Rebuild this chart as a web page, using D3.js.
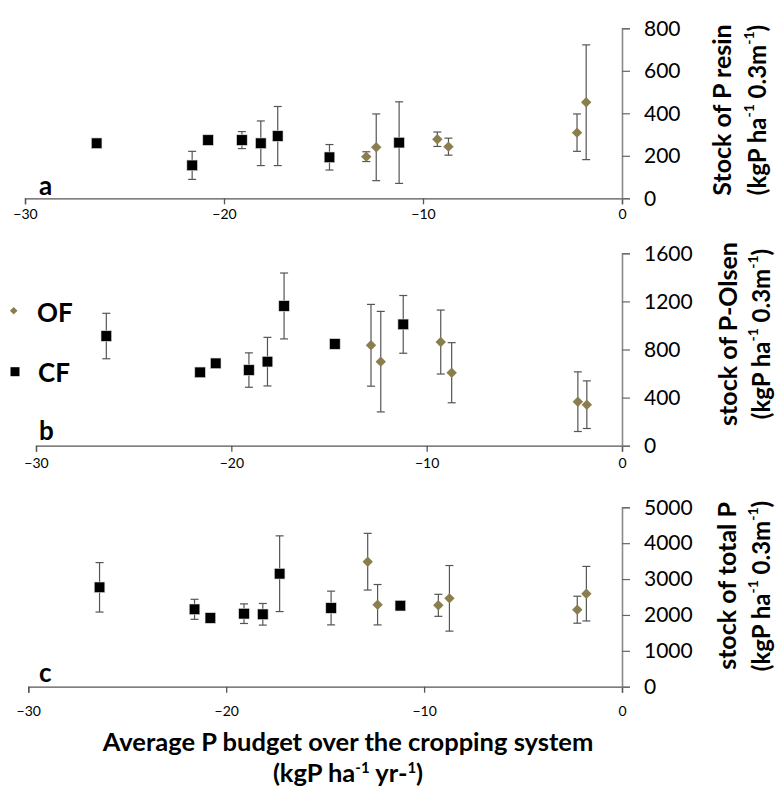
<!DOCTYPE html>
<html><head><meta charset="utf-8">
<script src="https://cdn.jsdelivr.net/npm/d3@7"></script>
<style>html,body{margin:0;padding:0;background:#fff}svg{display:block}</style>
</head><body>
<script>
// ---------- DATA ----------
const budgetCF = [-26.4, -21.6, -20.8, -19.1, -18.15, -17.3, -14.7, -11.2];
const budgetOF = [-12.85, -12.35, -9.28, -8.72, -2.26, -1.8];

const resinCF   = [259, 155, 274, 274, 259, 293, 193, 262];
const resinCFsd = [0, 66, 0, 40, 105, 139, 60, 192];
const resinOF   = [196, 240, 278, 243, 309, 452];
const resinOFsd = [23, 157, 34, 40, 88, 270];

const olsenCF   = [912, 610, 685, 629, 699, 1162, 846, 1009];
const olsenCFsd = [189, 0, 0, 143, 202, 274, 0, 240];
const olsenOF   = [835, 699, 862, 607, 366, 341];
const olsenOFsd = [340, 418, 266, 250, 248, 198];

const totalCF   = [2770, 2157, 1915, 2035, 2018, 3149, 2193, 2258];
const totalCFsd = [689, 279, 0, 273, 301, 1055, 470, 0];
const totalOF   = [3484, 2285, 2268, 2463, 2146, 2592];
const totalOFsd = [790, 563, 307, 914, 376, 760];

const xTicks = [-30, -20, -10, 0];
const resinTicks = [0, 200, 400, 600, 800];
const olsenTicks = [0, 400, 800, 1200, 1600];
const totalTicks = [0, 1000, 2000, 3000, 4000, 5000];

const panelLetters = ["a", "b", "c"];
const yTitles = ["Stock of P resin", "stock of P-Olsen", "stock of total P"];
const seriesNames = ["OF", "CF"];

// ---------- LAYOUT ----------
const W = 777, H = 789;
const font = "Lato, 'Open Sans', sans-serif";
const colOF = "#8b7e4e", colCF = "#000";
const errCol = "#555";

const panels = [
  {left: 25,  right: 622, top: 28.3,  bottom: 198.3, max: 800,  ticks: resinTicks, cf: resinCF, cfsd: resinCFsd, of: resinOF, ofsd: resinOFsd, xlabY: 219, t1x: 721, t2x: 756, tcy: 110, letterY: 195},
  {left: 36,  right: 622, top: 253.3, bottom: 445.7, max: 1600, ticks: olsenTicks, cf: olsenCF, cfsd: olsenCFsd, of: olsenOF, ofsd: olsenOFsd, xlabY: 468, t1x: 727, t2x: 760, tcy: 334, letterY: 440},
  {left: 28.3,right: 622, top: 507.3, bottom: 686.7, max: 5000, ticks: totalTicks, cf: totalCF, cfsd: totalCFsd, of: totalOF, ofsd: totalOFsd, xlabY: 716, t1x: 726, t2x: 760, tcy: 586, letterY: 682}
];

const svg = d3.select("body").append("svg").attr("width", W).attr("height", H)
  .style("font-family", font);

function diamondPath(r) { return `M0,${-r}L${r},0L0,${r}L${-r},0Z`; }

panels.forEach((p, i) => {
  const x = d3.scaleLinear().domain([-30, 0]).range([p.left, p.right]);
  const y = d3.scaleLinear().domain([0, p.max]).range([p.bottom, p.top]);
  const g = svg.append("g");

  // x axis
  const xa = g.append("g").attr("transform", `translate(0,${p.bottom})`)
    .call(d3.axisBottom(x).tickValues(xTicks).tickSize(6).tickFormat(d3.format("d")));
  xa.select(".domain").attr("stroke", "#555").attr("stroke-width", 1.3);
  xa.selectAll(".tick line").attr("stroke", "#555").attr("stroke-width", 1.3);
  xa.selectAll(".tick text").attr("font-size", 14).attr("fill", "#000")
    .attr("font-family", font).attr("y", null).attr("dy", null)
    .attr("transform", `translate(0,${p.xlabY - p.bottom})`);

  // y axis (right)
  const ya = g.append("g").attr("transform", `translate(${p.right},0)`)
    .call(d3.axisRight(y).tickValues(p.ticks).tickSize(8).tickPadding(14).tickFormat(d3.format("d")));
  ya.select(".domain").attr("stroke", "#8a8a8a").attr("stroke-width", 1.6);
  ya.selectAll(".tick line").attr("stroke", "#666").attr("stroke-width", 1.2);
  ya.selectAll(".tick text").attr("font-size", 21).attr("fill", "#000").attr("font-family", font);

  // y titles
  g.append("text").attr("transform", `translate(${p.t1x},${p.tcy}) rotate(-90)`)
    .attr("text-anchor", "middle").attr("dominant-baseline", "central")
    .attr("font-size", 25).attr("font-weight", "bold").text(yTitles[i]);
  const t2 = g.append("text").attr("transform", `translate(${p.t2x},${p.tcy}) rotate(-90)`)
    .attr("text-anchor", "middle").attr("dominant-baseline", "central")
    .attr("font-size", 24).attr("font-weight", "bold");
  t2.append("tspan").text("(kgP ha");
  t2.append("tspan").attr("dy", -8).attr("font-size", 14).text("-1");
  t2.append("tspan").attr("dy", 8).text(" 0.3m");
  t2.append("tspan").attr("dy", -8).attr("font-size", 14).text("-1");
  t2.append("tspan").attr("dy", 8).text(")");

  // panel letter
  g.append("text").attr("x", 39).attr("y", p.letterY).attr("font-size", 26)
    .attr("font-weight", "bold").text(panelLetters[i]);

  // error bars
  function errBars(xs, vals, sds) {
    const eg = g.append("g").attr("stroke", errCol).attr("stroke-width", 1.2);
    xs.forEach((xv, j) => {
      if (!sds[j]) return;
      const cx = x(xv), y1 = y(vals[j] + sds[j]), y0 = y(Math.max(0, vals[j] - sds[j]));
      eg.append("line").attr("x1", cx).attr("x2", cx).attr("y1", y1).attr("y2", y0);
      eg.append("line").attr("x1", cx - 4).attr("x2", cx + 4).attr("y1", y1).attr("y2", y1);
      eg.append("line").attr("x1", cx - 4).attr("x2", cx + 4).attr("y1", y0).attr("y2", y0);
    });
  }
  errBars(budgetCF, p.cf, p.cfsd);
  errBars(budgetOF, p.of, p.ofsd);

  // markers
  g.selectAll(".cf").data(budgetCF).join("rect")
    .attr("x", (d) => x(d) - 5.3).attr("y", (d, j) => y(p.cf[j]) - 5.3)
    .attr("width", 10.6).attr("height", 10.6).attr("fill", colCF)
    .attr("stroke", "#ddd").attr("stroke-width", 0.6);
  g.selectAll(".of").data(budgetOF).join("path")
    .attr("d", diamondPath(5.2))
    .attr("transform", (d, j) => `translate(${x(d)},${y(p.of[j])})`)
    .attr("fill", colOF);
});

// legend (in panel b)
svg.append("path").attr("d", diamondPath(3.8)).attr("transform", "translate(13.7,310.7)").attr("fill", colOF);
svg.append("text").attr("x", 37).attr("y", 322).attr("font-size", 26).attr("font-weight", "bold").text(seriesNames[0]);
svg.append("rect").attr("x", 10.5).attr("y", 367.2).attr("width", 9).attr("height", 9).attr("fill", colCF);
svg.append("text").attr("x", 38).attr("y", 382).attr("font-size", 26).attr("font-weight", "bold").text(seriesNames[1]);

// x title
svg.append("text").attr("x", 348).attr("y", 751).attr("text-anchor", "middle")
  .attr("font-size", 25.5).attr("font-weight", "bold").text("Average P budget over the cropping system");
const xt2 = svg.append("text").attr("x", 348).attr("y", 782).attr("text-anchor", "middle")
  .attr("font-size", 25.5).attr("font-weight", "bold");
xt2.append("tspan").text("(kgP ha");
xt2.append("tspan").attr("dy", -9).attr("font-size", 15).text("-1");
xt2.append("tspan").attr("dy", 9).text(" yr-");
xt2.append("tspan").attr("dy", -9).attr("font-size", 15).text("1");
xt2.append("tspan").attr("dy", 9).text(")");
</script>
</body></html>
